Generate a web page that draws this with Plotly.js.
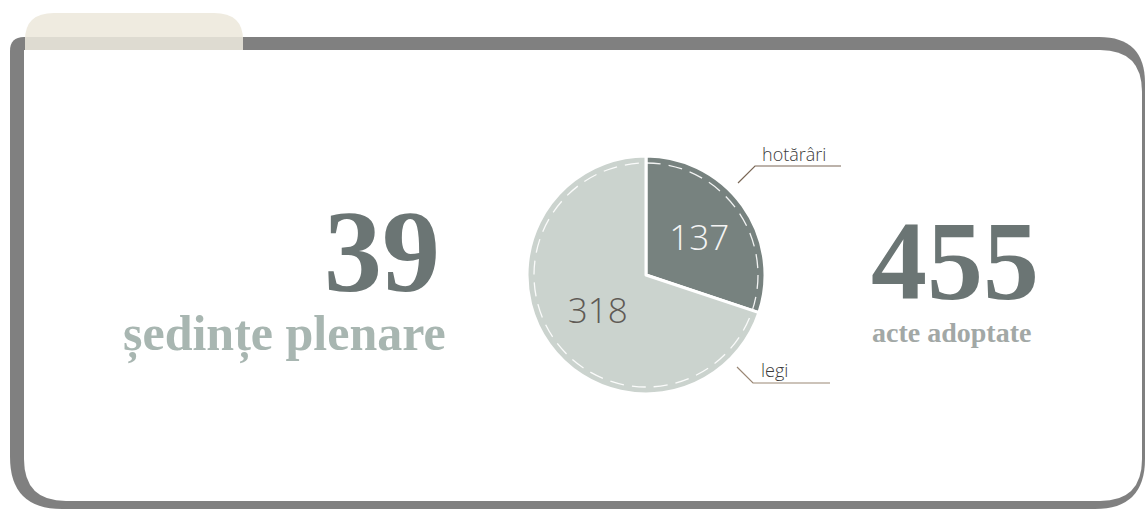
<!DOCTYPE html>
<html>
<head>
<meta charset="utf-8">
<script src="https://cdn.plot.ly/plotly-3.0.1.min.js"></script>
<style>
html,body{margin:0;padding:0;background:#ffffff;}
#chart{width:1145px;height:509px;}
</style>
</head>
<body>
<div id="chart"></div>
<script>
// ---- data ----
const categories = ['hotărâri', 'legi'];
const values = [137, 318];
const sessions = 39;
const sessionsLabel = 'ședințe plenare';
const actsLabel = 'acte adoptate';
const totalActs = values.reduce((a, b) => a + b, 0); // 455

// ---- layout helpers (pixel space via hidden axes) ----
const W = 1145, H = 509;
const cx = 646, cy = 275, R = 119;

function rr(x0, y0, x1, y1, rtl, rtr, rbr, rbl) {
  return `M ${x0 + rtl} ${y0} L ${x1 - rtr} ${y0} Q ${x1} ${y0} ${x1} ${y0 + rtr} ` +
         `L ${x1} ${y1 - rbr} Q ${x1} ${y1} ${x1 - rbr} ${y1} ` +
         `L ${x0 + rbl} ${y1} Q ${x0} ${y1} ${x0} ${y1 - rbl} ` +
         `L ${x0} ${y0 + rtl} Q ${x0} ${y0} ${x0 + rtl} ${y0} Z`;
}

const shapes = [
  // grey frame
  {type:'path', xref:'x', yref:'y', layer:'below', path: rr(10, 37, 1145, 509, 14, 46, 50, 52),
   fillcolor:'#808080', line:{width:0}},
  // white card
  {type:'path', xref:'x', yref:'y', layer:'below', path: rr(24, 50, 1142, 501, 0, 42, 42, 42),
   fillcolor:'#ffffff', line:{width:0}},
  // tab
  {type:'path', xref:'x', yref:'y', layer:'below',
   path: 'M 25 50 L 25 40 Q 25 13 54 13 L 214 13 Q 243 13 243 40 L 243 50 Z',
   fillcolor:'#EFEBE0', line:{width:0}},
  {type:'path', xref:'x', yref:'y', layer:'below',
   path: 'M 25 37 L 243 37 L 243 50 L 25 50 Z',
   fillcolor:'#DEDBD1', line:{width:0}},
  // dashed inner circle
  {type:'circle', xref:'x', yref:'y', layer:'above',
   x0: cx - 112, x1: cx + 112, y0: cy - 112, y1: cy + 112,
   line:{color:'rgba(255,255,255,0.9)', width:1.3, dash:'14px,8px'}, fillcolor:'rgba(0,0,0,0)'},
  // leader lines
  {type:'path', xref:'x', yref:'y', layer:'above', path:'M 738 183 L 755 166 L 841 166',
   line:{color:'#7A6756', width:1.2}},
  {type:'path', xref:'x', yref:'y', layer:'above', path:'M 737 367 L 753 383 L 830 383',
   line:{color:'#9A8775', width:1.2}}
];

const serif = 'Liberation Serif, Times New Roman, serif';
const sans = 'Open Sans, Noto Sans, sans-serif';

const annotations = [
  {xref:'x', yref:'y', x:442, y:252, xanchor:'right', yanchor:'middle', showarrow:false, height:96,
   text:String(sessions), font:{family:serif, size:116, color:'#6B7574', weight:700}},
  {xref:'x', yref:'y', x:448, y:334, xanchor:'right', yanchor:'middle', showarrow:false,
   text:sessionsLabel, font:{family:serif, size:50, color:'#A8B6B1', weight:700}},
  {xref:'x', yref:'y', x:955, y:261, xanchor:'center', yanchor:'middle', showarrow:false, height:96,
   text:String(totalActs), font:{family:serif, size:112, color:'#6B7574', weight:700}},
  {xref:'x', yref:'y', x:951, y:332, xanchor:'center', yanchor:'middle', showarrow:false,
   text:actsLabel, font:{family:serif, size:28, color:'#A2A8A6', weight:700}},
  {xref:'x', yref:'y', x:760, y:154, xanchor:'left', yanchor:'middle', showarrow:false,
   text:categories[0], font:{family:sans, size:18, color:'#3A3A3A', weight:300}},
  {xref:'x', yref:'y', x:759, y:370, xanchor:'left', yanchor:'middle', showarrow:false,
   text:categories[1], font:{family:sans, size:18, color:'#3A3A3A', weight:300}}
];

const trace = {
  type:'pie',
  labels: categories,
  values: values,
  sort:false,
  direction:'clockwise',
  rotation:0,
  hole:0,
  marker:{colors:['#77827F', '#CBD3CE'], line:{color:'#ffffff', width:3}},
  texttemplate:'%{value}',
  textposition:'inside',
  insidetextorientation:'horizontal',
  textfont:{family:sans, size:35, color:['#F4F4F4', '#5F5A55'], weight:300},
  showlegend:false,
  hoverinfo:'none',
  domain:{x:[(cx - R) / W, (cx + R) / W], y:[(H - cy - R) / H, (H - cy + R) / H]}
};

const layout = {
  width:W, height:H,
  margin:{l:0, r:0, t:0, b:0, pad:0},
  paper_bgcolor:'#ffffff', plot_bgcolor:'rgba(0,0,0,0)',
  xaxis:{range:[0, W], visible:false, fixedrange:true},
  yaxis:{range:[H, 0], visible:false, fixedrange:true},
  shapes:shapes,
  annotations:annotations,
  showlegend:false
};

Plotly.newPlot('chart', [trace], layout, {displayModeBar:false, staticPlot:true});
</script>
</body>
</html>
